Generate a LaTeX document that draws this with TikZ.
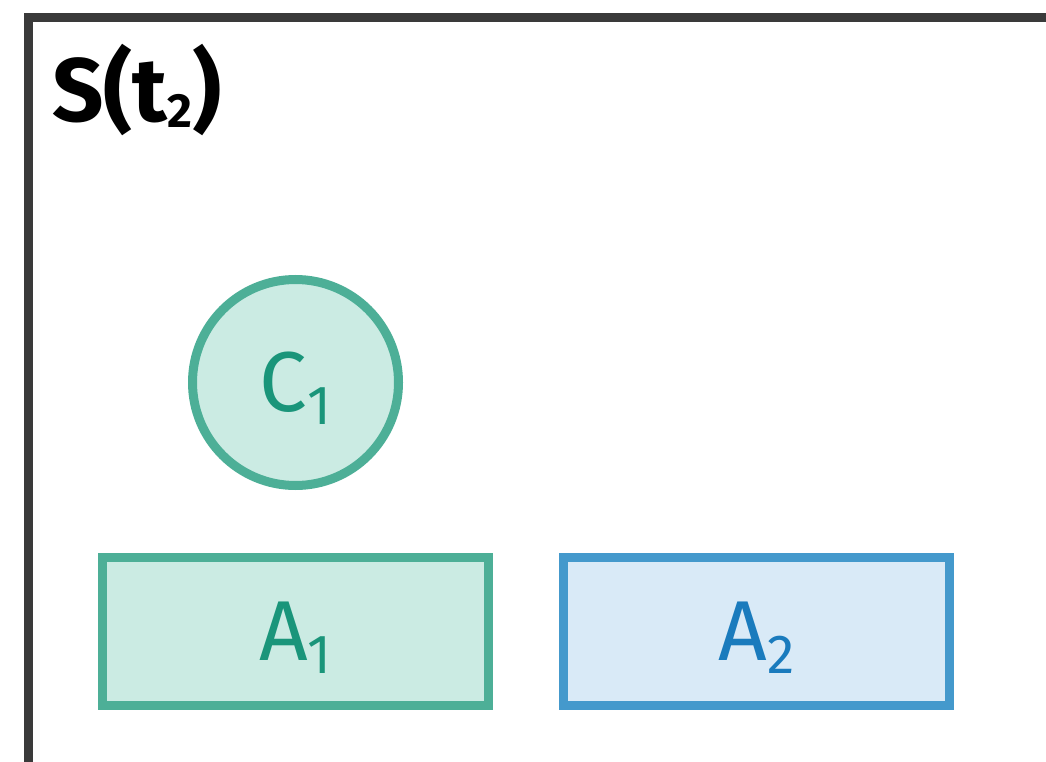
\documentclass[tikz,border=0pt]{standalone}
\usepackage{fontspec}
\setmainfont{Fira Sans}
\definecolor{framegray}{HTML}{3A3A3A}
\definecolor{gstroke}{HTML}{4DAF97}
\definecolor{gfill}{HTML}{CBEBE3}
\definecolor{gtext}{HTML}{1A957A}
\definecolor{bstroke}{HTML}{4499CC}
\definecolor{bfill}{HTML}{D9EAF7}
\definecolor{btext}{HTML}{1A7BBD}
\newcommand\mysub[1]{\smash{\raisebox{-13pt}{\fontsize{55}{55}\selectfont #1}}}
\newcommand\titlesub[1]{\raisebox{-6pt}{\fontsize{48}{48}\selectfont\bfseries #1}}
\tikzset{
  greenbox/.style={draw=gstroke, fill=gfill, text=gtext, line width=9pt, minimum width=386pt, minimum height=148pt, inner sep=0pt, font=\fontsize{85}{85}\selectfont},
  bluebox/.style={draw=bstroke, fill=bfill, text=btext, line width=9pt, minimum width=386pt, minimum height=148pt, inner sep=0pt, font=\fontsize{85}{85}\selectfont},
  greencirc/.style={circle, draw=gstroke, fill=gfill, text=gtext, line width=9pt, minimum size=206pt, inner sep=0pt, font=\fontsize{85}{85}\selectfont},
  titletext/.style={anchor=base west, inner sep=0pt, font=\fontsize{90}{90}\selectfont\bfseries},
  frameline/.style={draw=framegray, line width=8.5pt}
}
\begin{document}
\begin{tikzpicture}[x=1pt,y=-1pt]
\useasboundingbox (0,0) rectangle (1046,762);
\clip (0,0) rectangle (1046,762);
\coordinate (fbl) at (28.5,800);
\coordinate (ftl) at (28.5,17.5);
\coordinate (ftr) at (1100,17.5);
\draw[frameline] (fbl) -- (ftl) -- (ftr);
\node[titletext] (title) at (52,122) {S(t\titlesub{2})};
\node[greencirc] (c1) at (295.5,382.5) {C\mysub{1}};
\node[greenbox] (a1) at (295.5,631.5) {A\mysub{1}};
\node[bluebox] (a2) at (756.5,631.5) {A\mysub{2}};
\end{tikzpicture}
\end{document}
